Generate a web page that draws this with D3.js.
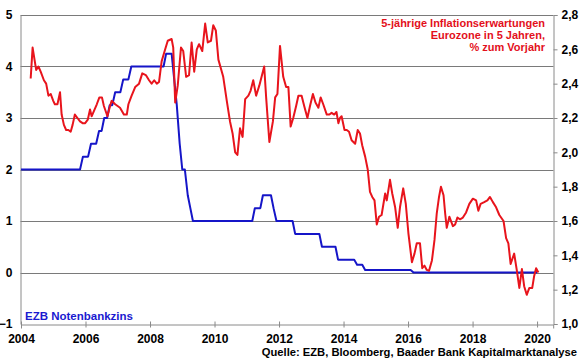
<!DOCTYPE html>
<html><head><meta charset="utf-8">
<script src="https://cdn.jsdelivr.net/npm/d3@7"></script>
<style>
html,body{margin:0;padding:0;background:#fff;}
svg{display:block;font-family:"Liberation Sans",Arial,sans-serif;font-weight:bold;}
</style></head>
<body><svg id="c" width="580" height="359"></svg>
<script>
// ECB main refinancing rate (left axis, %)
const rateYears = [2004.00,2005.83,2005.92,2006.08,2006.17,2006.33,2006.42,2006.50,2006.58,2006.67,2006.75,2006.83,2006.92,2007.08,2007.17,2007.33,2007.42,2008.42,2008.50,2008.67,2008.75,2008.83,2008.92,2009.00,2009.08,2009.17,2009.25,2009.33,2011.17,2011.25,2011.42,2011.50,2011.75,2011.83,2011.92,2012.42,2012.50,2013.25,2013.33,2013.75,2013.83,2014.33,2014.42,2014.58,2014.67,2016.08,2016.17,2020.00];
const rateValues = [2.00,2.00,2.25,2.25,2.50,2.50,2.75,2.75,3.00,3.00,3.25,3.25,3.50,3.50,3.75,3.75,4.00,4.00,4.25,4.25,3.75,3.25,2.50,2.00,2.00,1.50,1.25,1.00,1.00,1.25,1.25,1.50,1.50,1.25,1.00,1.00,0.75,0.75,0.50,0.50,0.25,0.25,0.15,0.15,0.05,0.05,0.00,0.00];

// 5y5y inflation expectations, Eurozone (right axis, %)
const inflYears = [2004.30,2004.36,2004.47,2004.54,2004.61,2004.71,2004.78,2004.85,2004.92,2005.00,2005.05,2005.13,2005.21,2005.26,2005.33,2005.40,2005.47,2005.54,2005.60,2005.67,2005.75,2005.83,2005.91,2005.99,2006.07,2006.14,2006.19,2006.26,2006.35,2006.43,2006.51,2006.57,2006.68,2006.76,2006.81,2006.92,2007.07,2007.19,2007.28,2007.33,2007.43,2007.54,2007.66,2007.76,2007.87,2007.97,2008.05,2008.13,2008.21,2008.28,2008.36,2008.47,2008.55,2008.67,2008.72,2008.78,2008.86,2008.96,2009.03,2009.12,2009.21,2009.29,2009.37,2009.45,2009.52,2009.62,2009.71,2009.79,2009.89,2009.96,2010.04,2010.12,2010.27,2010.38,2010.48,2010.56,2010.64,2010.71,2010.79,2010.87,2010.95,2011.05,2011.12,2011.20,2011.29,2011.39,2011.54,2011.60,2011.70,2011.81,2011.88,2011.95,2012.03,2012.13,2012.22,2012.29,2012.36,2012.44,2012.53,2012.60,2012.70,2012.78,2012.88,2012.96,2013.05,2013.13,2013.22,2013.29,2013.37,2013.48,2013.56,2013.63,2013.71,2013.78,2013.84,2013.89,2013.94,2014.03,2014.10,2014.17,2014.25,2014.36,2014.44,2014.51,2014.58,2014.67,2014.75,2014.82,2014.89,2014.96,2015.03,2015.10,2015.18,2015.29,2015.34,2015.44,2015.51,2015.60,2015.68,2015.75,2015.85,2015.93,2016.01,2016.12,2016.20,2016.27,2016.37,2016.44,2016.51,2016.58,2016.65,2016.74,2016.82,2016.89,2016.96,2017.02,2017.10,2017.15,2017.20,2017.28,2017.39,2017.46,2017.53,2017.61,2017.70,2017.80,2017.90,2018.01,2018.11,2018.18,2018.25,2018.36,2018.46,2018.54,2018.63,2018.73,2018.83,2018.96,2019.04,2019.11,2019.18,2019.29,2019.37,2019.45,2019.53,2019.60,2019.68,2019.76,2019.85,2019.91,2019.97,2020.04];
const inflValues = [2.43,2.61,2.48,2.50,2.47,2.42,2.40,2.33,2.34,2.30,2.28,2.28,2.35,2.22,2.16,2.13,2.13,2.12,2.16,2.22,2.20,2.18,2.17,2.17,2.19,2.25,2.21,2.24,2.28,2.32,2.32,2.27,2.21,2.27,2.30,2.28,2.26,2.22,2.22,2.28,2.33,2.38,2.40,2.46,2.45,2.42,2.40,2.42,2.40,2.41,2.53,2.60,2.65,2.66,2.61,2.29,2.39,2.61,2.59,2.44,2.45,2.64,2.47,2.60,2.63,2.59,2.75,2.64,2.65,2.74,2.71,2.54,2.44,2.30,2.18,2.11,2.00,1.985,2.14,2.09,2.31,2.33,2.36,2.42,2.33,2.39,2.50,2.32,2.06,2.18,2.32,2.34,2.62,2.44,2.38,2.38,2.15,2.20,2.27,2.33,2.33,2.27,2.20,2.27,2.34,2.29,2.26,2.32,2.28,2.22,2.22,2.23,2.22,2.235,2.17,2.20,2.21,2.13,2.13,2.12,2.07,2.05,2.13,2.11,2.04,1.975,1.90,1.77,1.74,1.72,1.58,1.625,1.635,1.76,1.72,1.84,1.76,1.68,1.56,1.68,1.79,1.70,1.53,1.36,1.41,1.47,1.47,1.325,1.34,1.315,1.31,1.37,1.49,1.645,1.74,1.80,1.75,1.645,1.56,1.625,1.57,1.58,1.62,1.61,1.62,1.65,1.70,1.73,1.72,1.66,1.70,1.71,1.72,1.74,1.71,1.68,1.635,1.60,1.50,1.47,1.35,1.41,1.315,1.21,1.32,1.22,1.17,1.21,1.21,1.28,1.325,1.30];

const xTickYears = [2004,2006,2008,2010,2012,2014,2016,2018,2020];
const leftTicks = [-1,0,1,2,3,4,5];
const rightTicks = [1.0,1.2,1.4,1.6,1.8,2.0,2.2,2.4,2.6,2.8];
const legendLines = ["5-jährige Inflationserwartungen","Eurozone in 5 Jahren,","% zum Vorjahr"];
const rateLabel = "EZB Notenbankzins";
const sourceLabel = "Quelle: EZB, Bloomberg, Baader Bank Kapitalmarktanalyse";

const L = 20.5, R = 553.5, T = 15, B = 324;
const svg = d3.select("#c");
const x = d3.scaleLinear().domain([2004, 2020.5]).range([21, 553.2]);
const yL = d3.scaleLinear().domain([-1, 5]).range([B, T]);
const yR = d3.scaleLinear().domain([1.0, 2.8]).range([B, T]);

// gridlines
svg.append("g").selectAll("line").data(leftTicks.filter(d => d > -1)).join("line")
  .attr("x1", L).attr("x2", R)
  .attr("y1", d => Math.round(yL(d)) + 0.5).attr("y2", d => Math.round(yL(d)) + 0.5)
  .attr("stroke", "#7a7a7a").attr("stroke-width", 1);

// left axis
const gL = svg.append("g").attr("transform", `translate(${L},0)`)
  .call(d3.axisLeft(yL).tickValues(leftTicks).tickSize(0).tickPadding(8).tickFormat(d3.format("d")));
gL.select(".domain").attr("stroke", "#8a8a8a");
gL.selectAll("text").attr("font-size", 12).attr("font-weight", "bold").attr("fill", "#000")
  .attr("font-family", "Liberation Sans, Arial, sans-serif");

// right axis
const gR = svg.append("g").attr("transform", `translate(${R},0)`)
  .call(d3.axisRight(yR).tickValues(rightTicks).tickSize(4).tickPadding(4).tickFormat(d => d3.format(".1f")(d).replace(".", ",")));
gR.select(".domain").attr("stroke", "#8a8a8a");
gR.selectAll(".tick line").attr("stroke", "#8a8a8a");
gR.selectAll("text").attr("font-size", 12).attr("font-weight", "bold").attr("fill", "#000")
  .attr("font-family", "Liberation Sans, Arial, sans-serif");

// bottom axis
const gB = svg.append("g").attr("transform", `translate(0,${B + 0.5})`)
  .call(d3.axisBottom(x).tickValues(xTickYears).tickSize(4).tickPadding(6).tickFormat(d3.format("d")));
gB.select(".domain").attr("stroke", "#8a8a8a");
gB.selectAll(".tick line").attr("stroke", "#8a8a8a").attr("y1", -3).attr("y2", 3);
gB.selectAll("text").attr("font-size", 12).attr("font-weight", "bold").attr("fill", "#000")
  .attr("font-family", "Liberation Sans, Arial, sans-serif");

// lines
const rateLine = d3.line().x((d, i) => x(rateYears[i])).y(d => yL(d));
svg.append("path").datum(rateValues).attr("d", rateLine)
  .attr("fill", "none").attr("stroke", "#1515c8").attr("stroke-width", 2).attr("stroke-linejoin", "round");

const inflLine = d3.line().x((d, i) => x(inflYears[i])).y(d => yR(d));
svg.append("path").datum(inflValues).attr("d", inflLine)
  .attr("fill", "none").attr("stroke", "#e8141c").attr("stroke-width", 2).attr("stroke-linejoin", "round");

// legend text
svg.append("g").selectAll("text").data(legendLines).join("text")
  .attr("x", 545).attr("y", (d, i) => 27 + i * 12)
  .attr("text-anchor", "end").attr("font-size", 11).attr("fill", "#e3101b").text(d => d);

svg.append("text").attr("x", 25).attr("y", 320).attr("font-size", 11.5).attr("fill", "#1a1ad0").text(rateLabel);

svg.append("text").attr("x", 577).attr("y", 356).attr("text-anchor", "end")
  .attr("font-size", 11.2).attr("fill", "#000").text(sourceLabel);
</script></body></html>
